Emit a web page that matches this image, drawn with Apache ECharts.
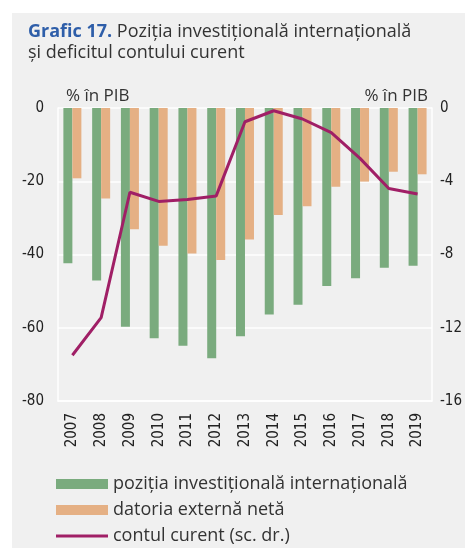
<!DOCTYPE html>
<html>
<head>
<meta charset="utf-8">
<script src="https://cdn.jsdelivr.net/npm/echarts@6/dist/echarts.min.js"></script>
<style>
  body { margin: 0; background: #fff; }
  #bg { position: absolute; left: 12px; top: 13px; right: 0; bottom: 0; background: #f0f0f0; }
  #chart { position: absolute; left: 0; top: 0; width: 465px; height: 548px; }
</style>
</head>
<body>
<div id="bg"></div>
<div id="chart"></div>
<script>
var years = ["2007", "2008", "2009", "2010", "2011", "2012", "2013", "2014", "2015", "2016", "2017", "2018", "2019"];
// % in PIB
var pozitia = [-42.4, -47.1, -59.7, -62.9, -64.9, -68.3, -62.3, -56.4, -53.7, -48.6, -46.5, -43.6, -43.1];
var datoria = [-19.2, -24.7, -33.1, -37.6, -39.7, -41.5, -35.9, -29.2, -26.8, -21.5, -20.1, -17.4, -18.1];
// scala dreapta
var contul = [-13.5, -11.45, -4.6, -5.1, -5.0, -4.8, -0.75, -0.15, -0.6, -1.35, -2.75, -4.4, -4.7];

var numFont = "'Liberation Sans Narrow', 'DejaVu Sans Condensed', 'Open Sans', sans-serif";
var txtFont = "'Open Sans', 'Noto Sans', sans-serif";

var myChart = echarts.init(document.getElementById("chart"));
var option = {
  backgroundColor: "transparent",
  animation: false,
  title: {
    left: 23,
    top: 16,
    text: "{b|Grafic 17.} Poziția investițională internațională\nși deficitul contului curent",
    textStyle: {
      fontFamily: txtFont,
      fontSize: 18,
      fontWeight: "normal",
      color: "#333",
      lineHeight: 21,
      rich: {
        b: { fontFamily: txtFont, fontSize: 18, fontWeight: "bold", color: "#2e5ea9", lineHeight: 21 }
      }
    }
  },
  grid: { left: 58, right: 33, top: 108, bottom: 147 },
  legend: {
    orient: "vertical",
    left: 56,
    top: 475,
    padding: 0,
    itemWidth: 52,
    itemHeight: 10,
    itemGap: 8,
    textStyle: { fontFamily: txtFont, fontSize: 18, color: "#333" },
    data: [
      { name: "poziția investițională internațională", icon: "rect" },
      { name: "datoria externă netă", icon: "rect" },
      { name: "contul curent (sc. dr.)", icon: "path://M0,0 H52 V3 H0 Z" }
    ]
  },
  xAxis: {
    type: "category",
    data: years,
    axisLine: { onZero: false, lineStyle: { color: "#fff", width: 1.5 } },
    axisTick: { show: false },
    axisLabel: {
      rotate: 90,
      margin: 12,
      fontFamily: numFont,
      fontSize: 15,
      color: "#222"
    }
  },
  yAxis: [
    {
      type: "value",
      min: -80,
      max: 0,
      interval: 20,
      name: "% în PIB",
      nameLocation: "end",
      nameGap: 3,
      nameTextStyle: { align: "left", padding: [0, 0, 0, 8], fontFamily: txtFont, fontSize: 17, color: "#333" },
      axisLine: { show: true, lineStyle: { color: "#fff", width: 1.5 } },
      axisTick: { show: false },
      axisLabel: { margin: 14, fontFamily: numFont, fontSize: 15, color: "#222" },
      splitLine: { lineStyle: { color: "#fff", width: 1.5 } }
    },
    {
      type: "value",
      min: -16,
      max: 0,
      interval: 4,
      position: "right",
      name: "% în PIB",
      nameLocation: "end",
      nameGap: 3,
      nameTextStyle: { align: "right", padding: [0, 4, 0, 0], fontFamily: txtFont, fontSize: 17, color: "#333" },
      axisLine: { show: true, lineStyle: { color: "#fff", width: 1.5 } },
      axisTick: { show: false },
      axisLabel: { margin: 8, fontFamily: numFont, fontSize: 15, color: "#222" },
      splitLine: { show: false }
    }
  ],
  series: [
    {
      name: "poziția investițională internațională",
      type: "bar",
      barWidth: 9,
      barGap: "0%",
      itemStyle: { color: "#7aab7e" },
      data: pozitia
    },
    {
      name: "datoria externă netă",
      type: "bar",
      barWidth: 9,
      itemStyle: { color: "#e5b084" },
      data: datoria
    },
    {
      name: "contul curent (sc. dr.)",
      type: "line",
      yAxisIndex: 1,
      symbol: "none",
      smooth: false,
      lineStyle: { color: "#a01f66", width: 3 },
      itemStyle: { color: "#a01f66" },
      data: contul
    }
  ]
};
myChart.setOption(option);
</script>
</body>
</html>
